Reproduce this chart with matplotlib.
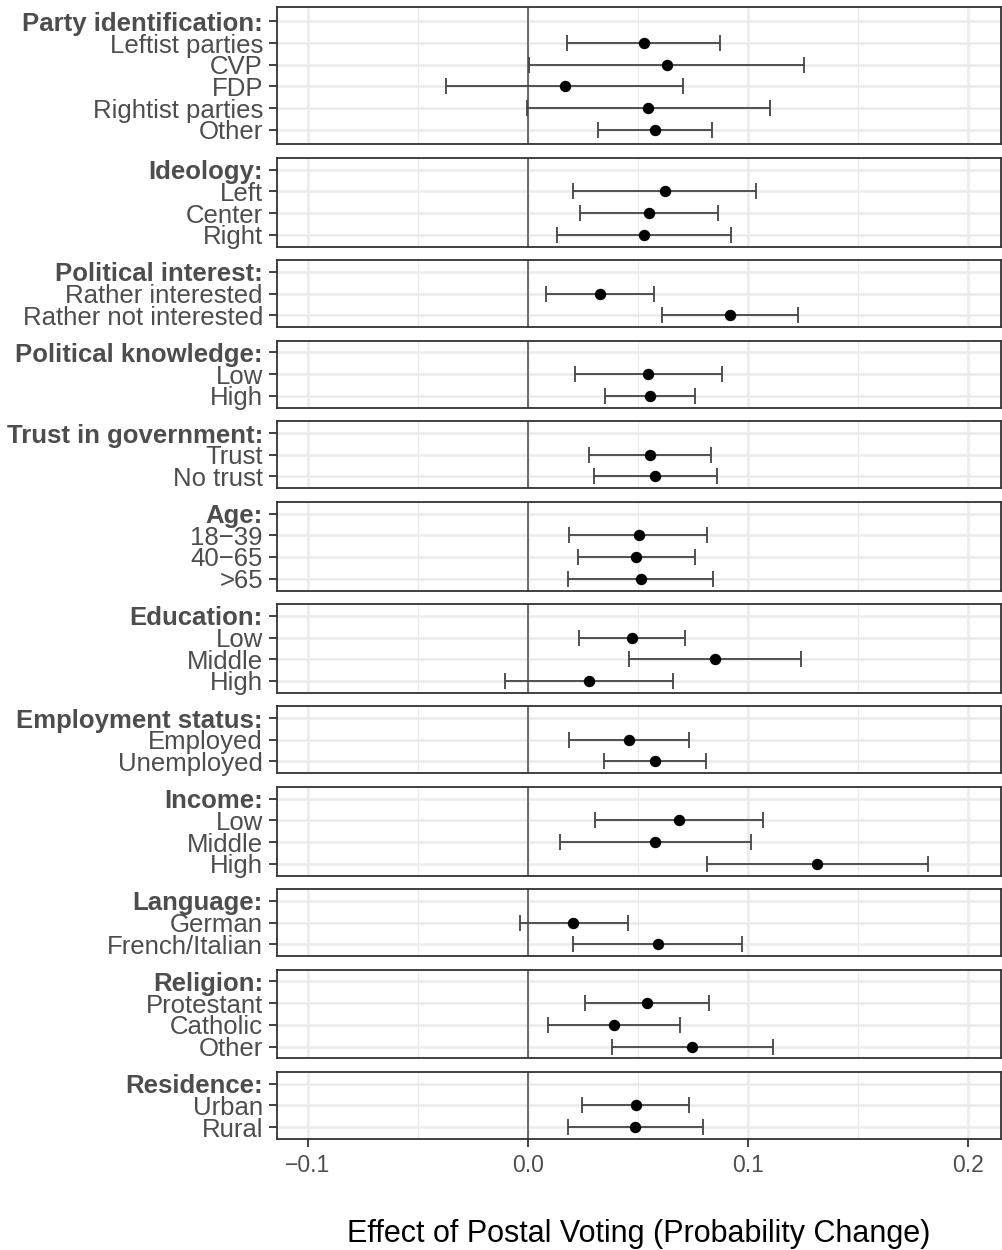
import numpy as np
import matplotlib
matplotlib.use("Agg")
import matplotlib.pyplot as plt

plt.rcParams["font.family"] = ["Liberation Sans", "DejaVu Sans"]

# header of each facet, then the levels inside it (top to bottom)
groups = ["Party identification:", "Ideology:", "Political interest:",
          "Political knowledge:", "Trust in government:", "Age:",
          "Education:", "Employment status:", "Income:", "Language:",
          "Religion:", "Residence:"]
levels = [
    ["Leftist parties", "CVP", "FDP", "Rightist parties", "Other"],
    ["Left", "Center", "Right"],
    ["Rather interested", "Rather not interested"],
    ["Low", "High"],
    ["Trust", "No trust"],
    ["18\u221239", "40\u221265", ">65"],
    ["Low", "Middle", "High"],
    ["Employed", "Unemployed"],
    ["Low", "Middle", "High"],
    ["German", "French/Italian"],
    ["Protestant", "Catholic", "Other"],
    ["Urban", "Rural"],
]
estimate = [
    [0.0527, 0.0630, 0.0168, 0.0548, 0.0577],
    [0.0623, 0.0552, 0.0526],
    [0.0327, 0.0917],
    [0.0548, 0.0555],
    [0.0555, 0.0579],
    [0.0503, 0.0492, 0.0514],
    [0.0474, 0.0851, 0.0277],
    [0.0461, 0.0577],
    [0.0688, 0.0579, 0.1315],
    [0.0207, 0.0590],
    [0.0541, 0.0391, 0.0747],
    [0.0491, 0.0486],
]
ci_low = [
    [0.0179, 0.0003, -0.0373, -0.0003, 0.0320],
    [0.0206, 0.0239, 0.0132],
    [0.0082, 0.0608],
    [0.0212, 0.0350],
    [0.0277, 0.0302],
    [0.0189, 0.0226, 0.0182],
    [0.0233, 0.0460, -0.0103],
    [0.0189, 0.0344],
    [0.0303, 0.0148, 0.0815],
    [-0.0038, 0.0207],
    [0.0259, 0.0091, 0.0382],
    [0.0244, 0.0180],
]
ci_high = [
    [0.0874, 0.1255, 0.0705, 0.1102, 0.0835],
    [0.1038, 0.0862, 0.0923],
    [0.0574, 0.1229],
    [0.0882, 0.0759],
    [0.0830, 0.0858],
    [0.0814, 0.0760, 0.0842],
    [0.0715, 0.1241, 0.0659],
    [0.0732, 0.0810],
    [0.1070, 0.1014, 0.1818],
    [0.0454, 0.0974],
    [0.0821, 0.0691, 0.1114],
    [0.0730, 0.0794],
]
x_ticks = [-0.1, 0.0, 0.1, 0.2]
x_tick_labels = ["\u22120.1", "0.0", "0.1", "0.2"]
x_minor = [-0.05, 0.05, 0.15]

pad = 0.55
nrows = [len(l) + 1 for l in levels]
ratios = [n - 1 + 2 * pad for n in nrows]
ratios[0] += 0.25  # top facet sits a touch taller in the original

fig, axes = plt.subplots(len(groups), 1, figsize=(10.03, 12.5), dpi=100,
                         sharex=True,
                         gridspec_kw=dict(height_ratios=ratios, hspace=0.163))
fig.subplots_adjust(left=0.276, right=0.998, top=0.9946, bottom=0.0888)

text_col = "#4D4D4D"
for i, ax in enumerate(axes):
    n = nrows[i]
    y = np.arange(1, n)
    est = np.array(estimate[i])
    lo = np.array(ci_low[i])
    hi = np.array(ci_high[i])

    ax.axvline(0, color="#555555", lw=1.2, zorder=2)
    ax.errorbar(est, y, xerr=[est - lo, hi - est], fmt="none",
                ecolor="#444444", elinewidth=1.3, capsize=5.8, capthick=1.3,
                zorder=3)
    ax.plot(est, y, "o", color="black", ms=7.2, zorder=4)

    ax.set_xlim(-0.1141, 0.215)
    extra = 0.125 if i == 0 else 0
    ax.set_ylim(n - 1 + pad + extra, -pad - extra)
    ax.set_yticks(np.arange(n))
    ax.set_yticklabels([groups[i]] + levels[i])
    ax.get_yticklabels()[0].set_fontweight("bold")
    ax.get_yticklabels()[0].set_color("#383838")

    ax.set_xticks(x_ticks)
    ax.set_xticks(x_minor, minor=True)
    ax.grid(True, which="major", color="#EBEBEB", lw=1.8, zorder=0)
    ax.grid(True, which="minor", axis="x", color="#EBEBEB", lw=0.9, zorder=0)
    ax.set_axisbelow(True)
    ax.tick_params(axis="y", length=6, width=1.3, color="#333333",
                   labelsize=18.5, labelcolor=text_col, pad=4)
    ax.tick_params(axis="x", which="minor", length=0)
    if i < len(groups) - 1:
        ax.tick_params(axis="x", which="major", length=0, labelbottom=False)
    else:
        ax.tick_params(axis="x", which="major", length=6, width=1.3,
                       color="#333333", labelsize=16.5, labelcolor=text_col,
                       pad=5)
        ax.set_xticklabels(x_tick_labels)
    for s in ax.spines.values():
        s.set_color("#333333")
        s.set_linewidth(1.3)

fig.text(0.637, 0.0064, "Effect of Postal Voting (Probability Change)",
         ha="center", va="baseline", fontsize=22, color="black")

fig.savefig("out.png", dpi=100)
